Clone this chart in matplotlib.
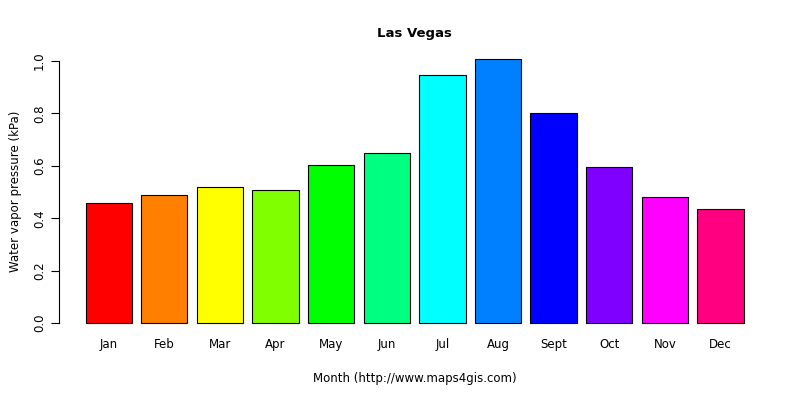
import matplotlib
matplotlib.use("Agg")
import matplotlib.pyplot as plt

months = ["Jan","Feb","Mar","Apr","May","Jun","Jul","Aug","Sept","Oct","Nov","Dec"]
values = [0.458,0.489,0.519,0.508,0.603,0.649,0.947,1.008,0.802,0.595,0.481,0.435]
colors = ["#FF0000","#FF8000","#FFFF00","#80FF00","#00FF00","#00FF80",
          "#00FFFF","#0080FF","#0000FF","#8000FF","#FF00FF","#FF0080"]

fig = plt.figure(figsize=(8,4), dpi=100)
ax = fig.add_axes([0.074, 0.166, 0.8885, 0.713])
x = [0.7 + 1.2*i for i in range(len(values))]
ax.bar(x, values, width=1.0, color=colors, edgecolor="black", linewidth=0.8)
ax.set_xlim(0.2-0.568, 14.4+0.568)
ax.set_ylim(-0.04*1.008, 1.008*1.04)
for s in ["top","right","bottom"]:
    ax.spines[s].set_visible(False)
ax.spines["left"].set_bounds(0, 1.0)
ax.set_yticks([0,0.2,0.4,0.6,0.8,1.0])
ax.set_yticklabels(["0.0","0.2","0.4","0.6","0.8","1.0"], rotation=90, va="center", fontsize=8.5)
ax.set_xticks(x)
ax.set_xticklabels(months, fontsize=8.5)
ax.tick_params(axis="x", length=0, pad=3)
ax.tick_params(axis="y", length=6)
ax.set_xlabel("Month (http://www.maps4gis.com)", fontsize=8.5, labelpad=15)
ax.set_ylabel("Water vapor pressure (kPa)", fontsize=8.5, labelpad=8)
ax.set_title("Las Vegas", fontsize=9.5, fontweight="bold", pad=8)
fig.savefig("out.png", dpi=100)
